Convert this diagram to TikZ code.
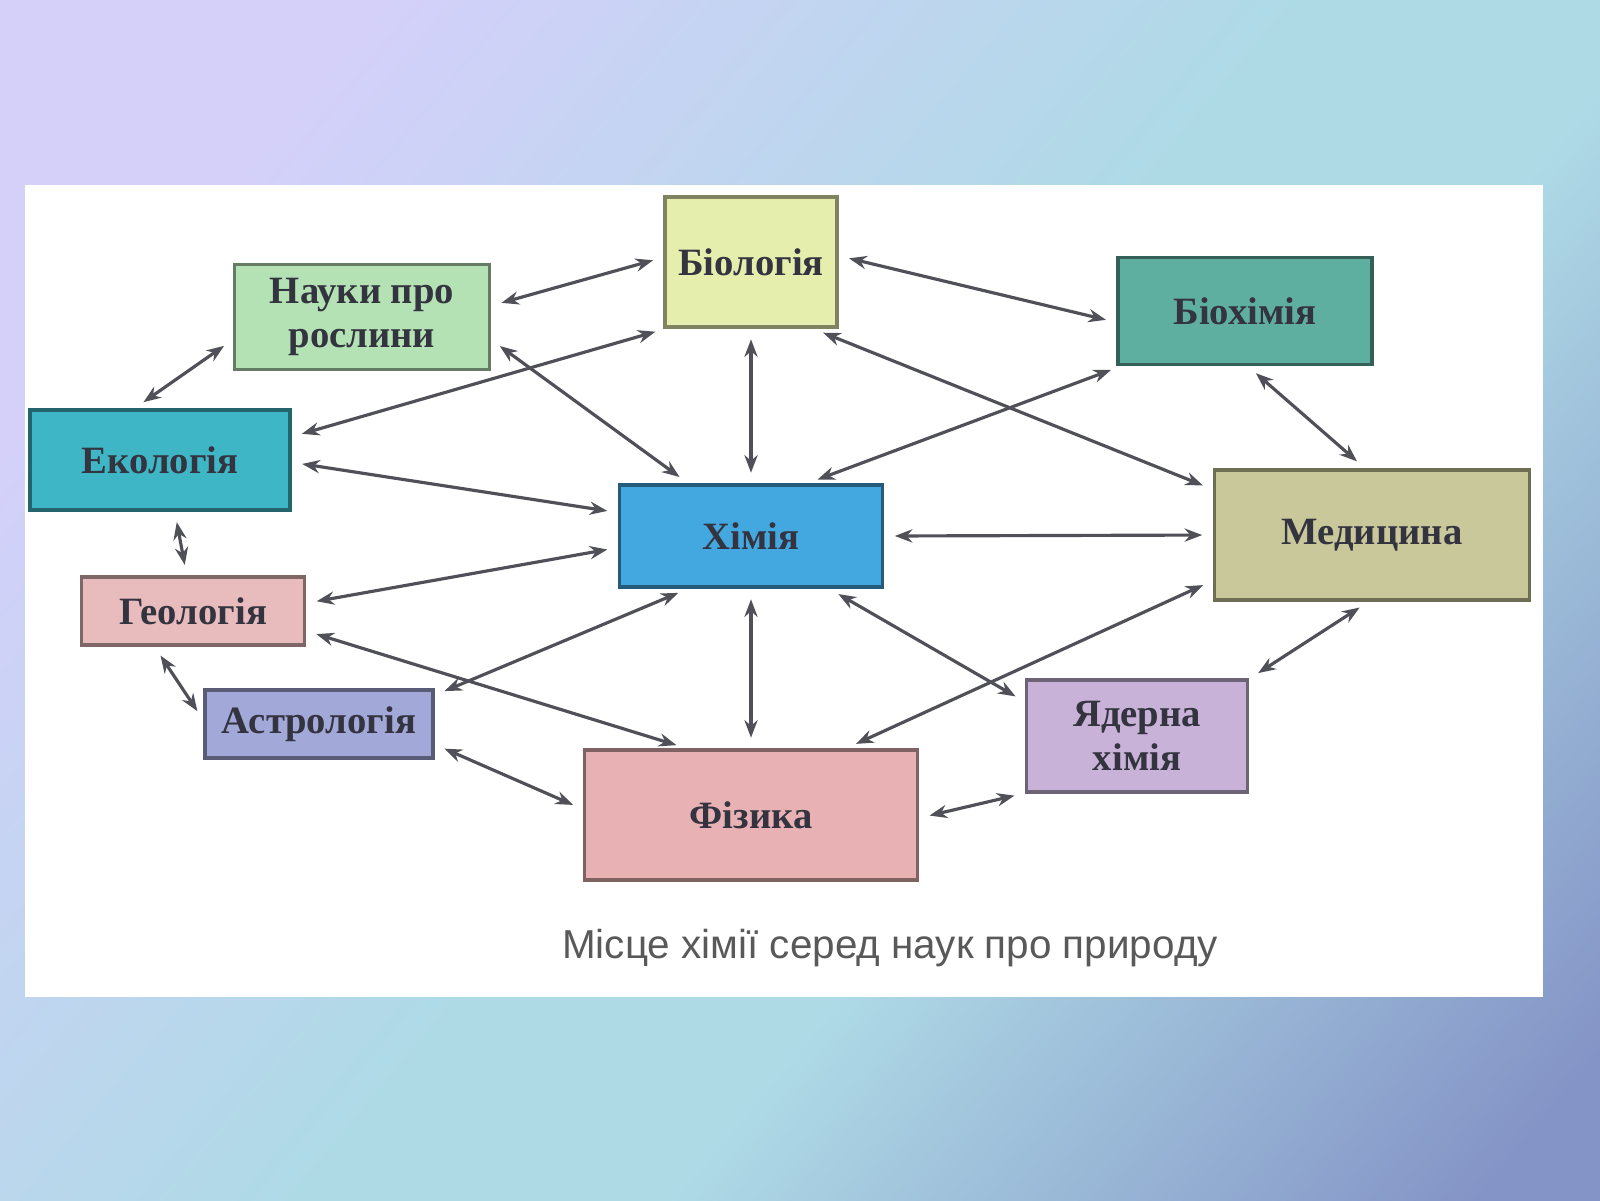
\documentclass[tikz,border=0pt]{standalone}
\usepackage{fontspec}
\setmainfont{Liberation Serif}
\newfontfamily\capfont{Liberation Sans}
\usetikzlibrary{arrows.meta}

\definecolor{bgA}{HTML}{D4D0FA}
\definecolor{bgB}{HTML}{AEDAE6}
\definecolor{bgC}{HTML}{8494C6}
\definecolor{txt}{HTML}{343440}
\definecolor{arr}{HTML}{505058}
\definecolor{cbio}{HTML}{E6EEAE}
\definecolor{cnauki}{HTML}{B4E2B4}
\definecolor{cbiokh}{HTML}{5FAFA0}
\definecolor{cekol}{HTML}{3FB6C6}
\definecolor{ckhim}{HTML}{44A8E0}
\definecolor{cmed}{HTML}{C8C89A}
\definecolor{cgeol}{HTML}{E8BCBC}
\definecolor{castro}{HTML}{A2A8D8}
\definecolor{cyad}{HTML}{C8B2D8}
\definecolor{cfiz}{HTML}{E8B2B4}

\pgfdeclarehorizontalshading{slidebg}{100bp}{color(0bp)=(bgA); color(25bp)=(bgA); color(50bp)=(bgB); color(60bp)=(bgB); color(82bp)=(bgC); color(100bp)=(bgC)}

\tikzset{
  sci/.style={draw=#1!55!black, fill=#1, line width=1pt, inner sep=0pt,
    align=center, text=txt, font=\fontsize{11}{12.5}\selectfont\bfseries},
  link/.style={{Stealth[length=5pt]}-{Stealth[length=5pt]}, draw=arr,
    line width=0.9pt, shorten <=3pt, shorten >=3pt}
}

\begin{document}
\begin{tikzpicture}
  \useasboundingbox (0,0) rectangle (16,-12);
  \shade[shading=slidebg, shading angle=-40] (0,0) rectangle (16,-12);
  \fill[white] (0.25,-1.85) rectangle (15.43,-9.97);

  % boxes
  \node[sci=cbio, minimum width=1.72cm, minimum height=1.30cm] (bio) at (7.51,-2.62) {Біологія};
  \node[sci=cnauki, minimum width=2.55cm, minimum height=1.05cm] (nauki) at (3.62,-3.17) {Науки про\\рослини};
  \node[sci=cbiokh, minimum width=2.54cm, minimum height=1.07cm] (biokh) at (12.45,-3.11) {Біохімія};
  \node[sci=cekol, minimum width=2.60cm, minimum height=1.00cm] (ekol) at (1.60,-4.60) {Екологія};
  \node[sci=ckhim, minimum width=2.63cm, minimum height=1.02cm] (khim) at (7.51,-5.36) {Хімія};
  \node[sci=cmed, minimum width=3.15cm, minimum height=1.30cm] (med) at (13.72,-5.35) {Медицина};
  \node[sci=cgeol, minimum width=2.23cm, minimum height=0.68cm] (geol) at (1.93,-6.11) {Геологія};
  \node[sci=castro, minimum width=2.28cm, minimum height=0.68cm] (astro) at (3.19,-7.24) {Астрологія};
  \node[sci=cyad, minimum width=2.21cm, minimum height=1.12cm] (yad) at (11.37,-7.36) {Ядерна\\хімія};
  \node[sci=cfiz, minimum width=3.33cm, minimum height=1.30cm] (fiz) at (7.51,-8.15) {Фізика};

  % links
  \draw[link] (nauki.5) -- (bio.177);
  \draw[link] (nauki.-10) -- (khim.140);
  \draw[link] (bio.218) -- (ekol.10);
  \draw[link] (bio.south) -- (khim.north);
  \draw[link] (bio.4) -- (biokh.185);
  \draw[link] (bio.-47) -- (med.164);
  \draw[link] (biokh.204) -- (khim.43);
  \draw[link] (biokh.-87) -- (med.96);
  \draw[link] (nauki.190) -- (ekol.116);
  \draw[link] (ekol.-1) -- (khim.170);
  \draw[link] (ekol.-74) -- (geol.100);
  \draw[link] (geol.4) -- (khim.185);
  \draw[link] (geol.-10) -- (fiz.134);
  \draw[link] (geol.223) -- (astro.178);
  \draw[link] (astro.14) -- (khim.220);
  \draw[link] (astro.-10) -- (fiz.178);
  \draw[link] (khim.south) -- (fiz.north);
  \draw[link] (khim.-34) -- (yad.163);
  \draw[link] (khim.east) -- (med.west);
  \draw[link] (med.196) -- (fiz.35);
  \draw[link] (med.-93) -- (yad.27);
  \draw[link] (fiz.-1) -- (yad.207);

  \node[font=\capfont\fontsize{11.5}{13}\selectfont, text=black!65] (cap) at (8.90,-9.48)
    {Місце хімії серед наук про природу};
\end{tikzpicture}
\end{document}
